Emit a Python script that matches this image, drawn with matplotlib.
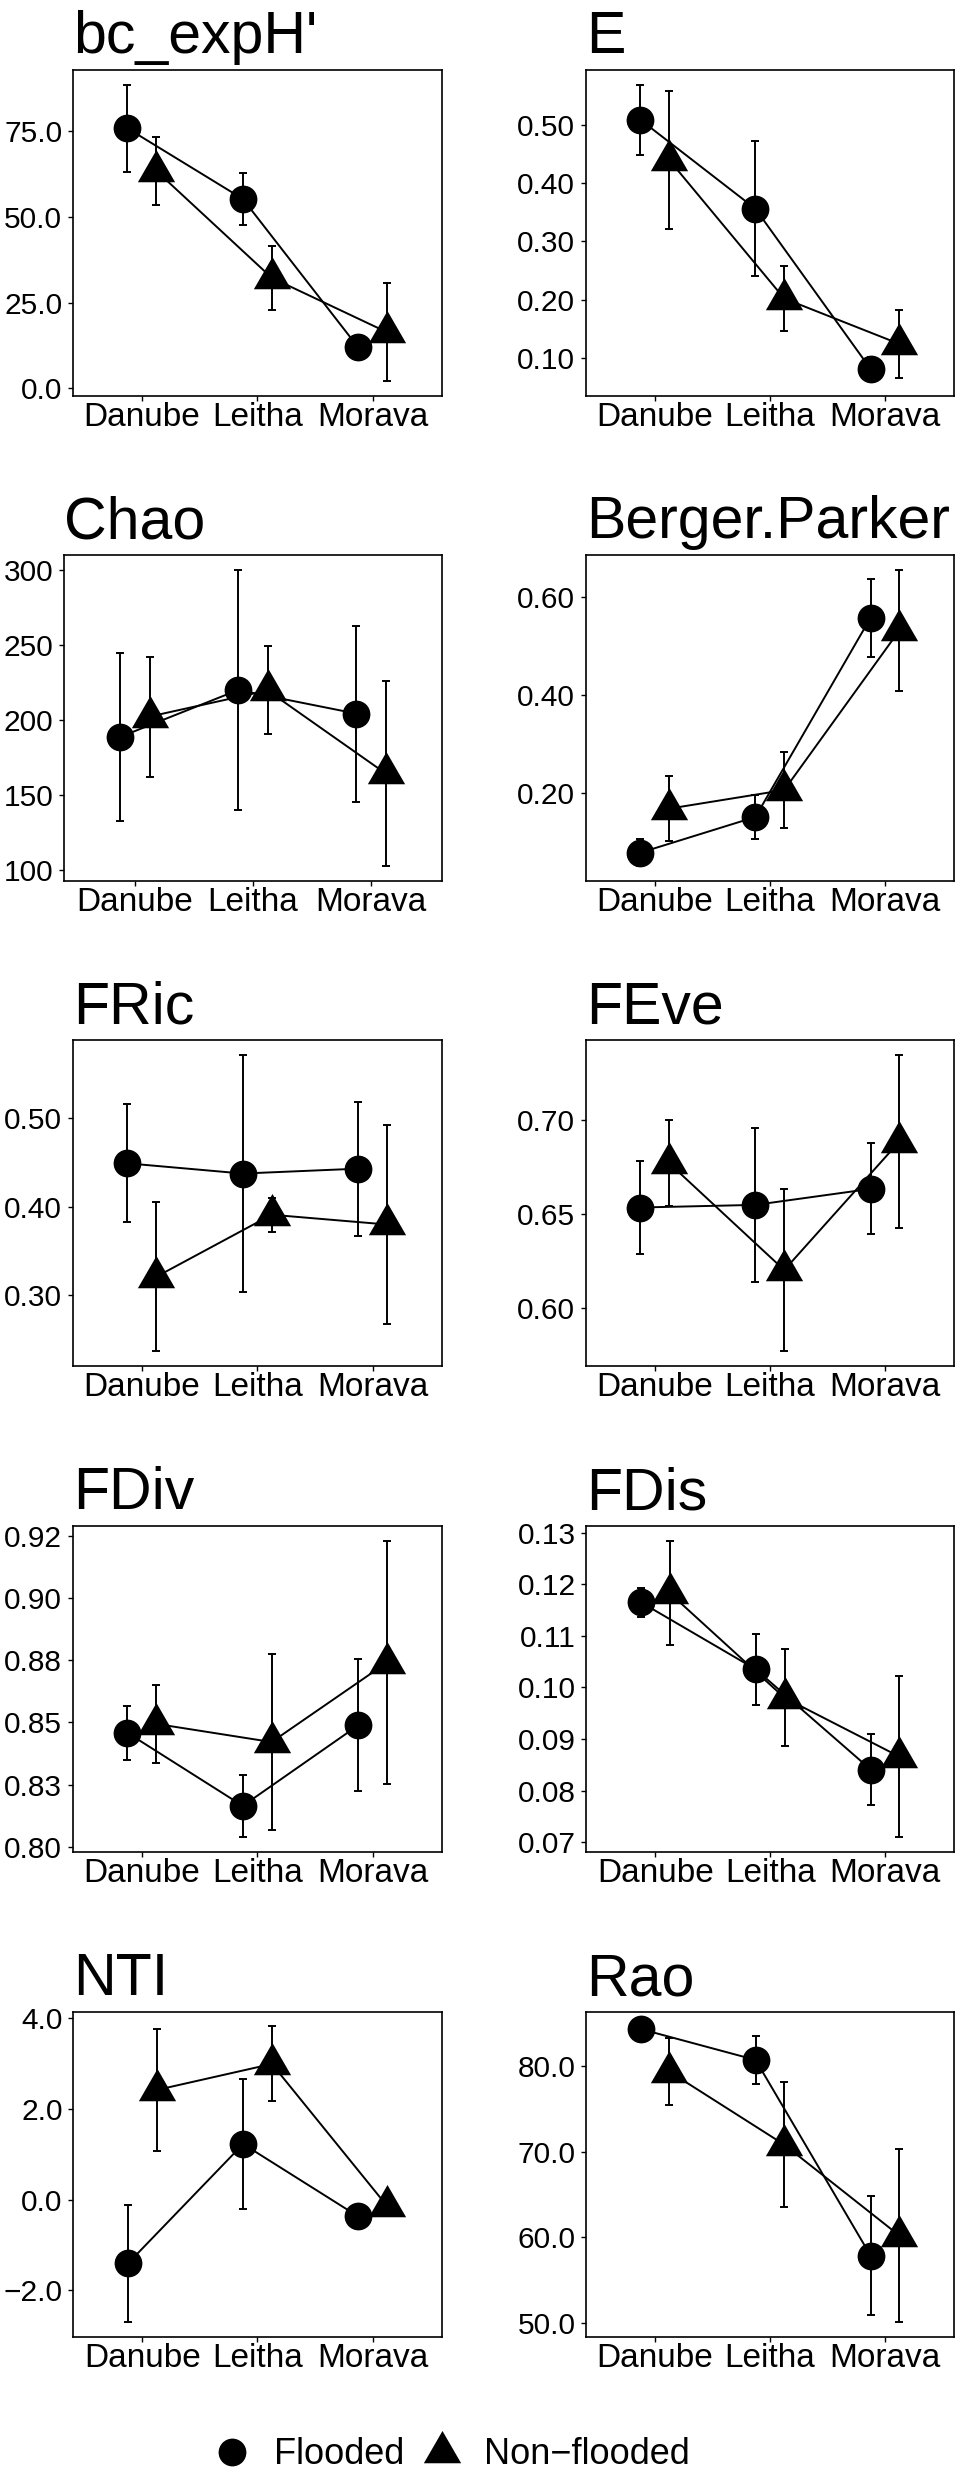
import numpy as np
import matplotlib
matplotlib.use("Agg")
import matplotlib.pyplot as plt
from matplotlib.path import Path
from matplotlib.lines import Line2D

plt.rcParams['font.family'] = ['Liberation Sans', 'DejaVu Sans']

rivers = ["Danube", "Leitha", "Morava"]
metrics = ["bc_expH'", "E", "Chao", "Berger.Parker", "FRic",
           "FEve", "FDiv", "FDis", "NTI", "Rao"]

# mean and standard error per river, one row per metric
flooded_mean = [
    [75.9, 55.3, 12.0],
    [0.509, 0.356, 0.081],
    [188.8, 220.1, 204.4],
    [0.078, 0.151, 0.558],
    [0.449, 0.4375, 0.443],
    [0.6536, 0.655, 0.6635],
    [0.8458, 0.8164, 0.8488],
    [0.1165, 0.1035, 0.0841],
    [-1.405, 1.223, -0.372],
    [84.36, 80.74, 57.84],
]
flooded_se = [
    [12.7, 7.7, 2.5],
    [0.060, 0.116, 0.021],
    [56.1, 80.1, 58.6],
    [0.027, 0.045, 0.080],
    [0.0665, 0.134, 0.0755],
    [0.0247, 0.041, 0.0242],
    [0.0109, 0.0126, 0.0266],
    [0.0028, 0.0069, 0.0068],
    [1.288, 1.434, 0.15],
    [0.3, 2.8, 6.95],
]
nonflooded_mean = [
    [63.5, 32.3, 16.4],
    [0.440, 0.202, 0.124],
    [202.4, 219.8, 164.5],
    [0.168, 0.206, 0.532],
    [0.321, 0.391, 0.380],
    [0.6772, 0.6203, 0.6887],
    [0.8494, 0.8421, 0.8741],
    [0.1183, 0.098, 0.0866],
    [2.412, 2.985, -0.14],
    [79.38, 70.82, 60.19],
]
nonflooded_se = [
    [9.9, 9.4, 14.3],
    [0.119, 0.056, 0.058],
    [40.0, 29.3, 61.6],
    [0.066, 0.078, 0.124],
    [0.084, 0.019, 0.112],
    [0.0228, 0.0432, 0.0462],
    [0.0156, 0.0353, 0.049],
    [0.0101, 0.0094, 0.0156],
    [1.339, 0.825, 0.1],
    [3.89, 7.32, 10.1],
]

y_ticks = [
    [0, 25, 50, 75],
    [0.1, 0.2, 0.3, 0.4, 0.5],
    [100, 150, 200, 250, 300],
    [0.2, 0.4, 0.6],
    [0.3, 0.4, 0.5],
    [0.60, 0.65, 0.70],
    [0.800, 0.825, 0.850, 0.875, 0.900, 0.925],
    [0.07, 0.08, 0.09, 0.10, 0.11, 0.12, 0.13],
    [-2, 0, 2, 4],
    [50, 60, 70, 80],
]
y_labels = [
    ["0.0", "25.0", "50.0", "75.0"],
    ["0.10", "0.20", "0.30", "0.40", "0.50"],
    ["100", "150", "200", "250", "300"],
    ["0.20", "0.40", "0.60"],
    ["0.30", "0.40", "0.50"],
    ["0.60", "0.65", "0.70"],
    ["0.80", "0.83", "0.85", "0.88", "0.90", "0.92"],
    ["0.07", "0.08", "0.09", "0.10", "0.11", "0.12", "0.13"],
    ["\u22122.0", "0.0", "2.0", "4.0"],
    ["50.0", "60.0", "70.0", "80.0"],
]

# panel boxes in pixels: left, right, top, bottom
W, H = 956, 2482
boxes = [
    (72.7, 441.7, 70, 396), (585.7, 954, 70, 396),
    (64, 441.7, 555, 880.7), (585.7, 954, 555, 880.7),
    (72.7, 441.7, 1040, 1366), (585.7, 954, 1040, 1366),
    (72.7, 441.7, 1526, 1852), (586.3, 954, 1526, 1852),
    (73.3, 441.7, 2011.7, 2336.7), (586, 954, 2011.7, 2336.7),
]

# equilateral triangle centred on its centroid, like R's pch 17
tri = Path([(0, 1), (-0.866, -0.5), (0.866, -0.5), (0, 1)],
           [Path.MOVETO, Path.LINETO, Path.LINETO, Path.CLOSEPOLY])

circle_ms = 20
tri_ms = 31
lw = 1.4
dodge = 0.125

fig = plt.figure(figsize=(W / 100, H / 100), dpi=100)

x = np.arange(1, 4)
for i, name in enumerate(metrics):
    l, r, t, b = boxes[i]
    ax = fig.add_axes([l / W, 1 - b / H, (r - l) / W, (b - t) / H])

    fm, fs = np.array(flooded_mean[i]), np.array(flooded_se[i])
    nm, ns = np.array(nonflooded_mean[i]), np.array(nonflooded_se[i])

    ax.plot(x - dodge, fm, color="black", lw=lw, zorder=2)
    ax.plot(x + dodge, nm, color="black", lw=lw, zorder=2)
    ax.errorbar(x - dodge, fm, yerr=fs, fmt="none", ecolor="black",
                elinewidth=lw, capsize=3, capthick=lw, zorder=3)
    ax.errorbar(x + dodge, nm, yerr=ns, fmt="none", ecolor="black",
                elinewidth=lw, capsize=3, capthick=lw, zorder=3)
    ax.plot(x - dodge, fm, ls="none", marker="o", ms=circle_ms,
            mfc="black", mec="black", mew=0, zorder=4)
    ax.plot(x + dodge, nm, ls="none", marker=tri, ms=tri_ms,
            mfc="black", mec="black", mew=0, zorder=4)

    lo = min((fm - fs).min(), (nm - ns).min())
    hi = max((fm + fs).max(), (nm + ns).max())
    pad = (hi - lo) * 0.05
    ax.set_ylim(lo - pad, hi + pad)
    ax.set_xlim(0.4, 3.6)

    ax.set_xticks(x)
    ax.set_xticklabels(rivers, fontsize=24)
    ax.set_yticks(y_ticks[i])
    ax.set_yticklabels(y_labels[i], fontsize=21.5)
    ax.tick_params(direction="out", length=3.6, width=1.0, color="black",
                   labelcolor="black")
    ax.tick_params(axis="x", pad=1)
    ax.tick_params(axis="y", pad=4)
    for s in ax.spines.values():
        s.set_linewidth(1.2)
        s.set_color("black")

    ax.set_title(name, loc="left", fontsize=42.5, pad=12)

handles = [
    Line2D([], [], ls="none", marker="o", ms=circle_ms, mfc="black",
           mec="black", mew=0),
    Line2D([], [], ls="none", marker=tri, ms=tri_ms, mfc="black",
           mec="black", mew=0),
]
fig.legend(handles, ["Flooded", "Non\u2212flooded"], loc="center left",
           bbox_to_anchor=(211.8 / W, 1 - 2455 / H), ncol=2, frameon=False,
           fontsize=26, handlelength=1.1, handletextpad=0.61,
           columnspacing=0.5, borderpad=0, borderaxespad=0)

fig.savefig("out.png", dpi=100)
